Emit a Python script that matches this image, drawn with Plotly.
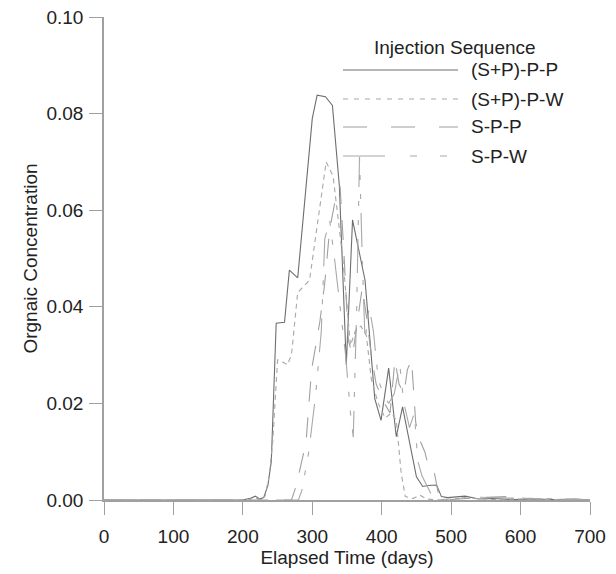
import plotly.graph_objects as go

# ---- data ----
t_sppp = [0, 200, 212, 218, 224, 230, 236, 241, 248, 260, 267, 279, 300, 307, 319, 329, 339, 344, 349, 358,
          376, 390, 399, 410, 421, 430, 450, 459, 467, 479, 486, 495, 520, 540, 560, 590, 620, 650, 680, 700]
v_sppp = [0, 0, 0.0004, 0.0008, 0.0002, 0.0005, 0.003, 0.008, 0.0366, 0.0368, 0.0476, 0.046, 0.079, 0.0838,
          0.0835, 0.0817, 0.065, 0.045, 0.028, 0.058, 0.0455, 0.021, 0.0165, 0.0273, 0.0131, 0.0193, 0.0048,
          0.0028, 0.0030, 0.0031, 0.0007, 0.0005, 0.0008, 0.0002, 0.0003, 0.0001, 0.0002, 0.0001, 0.0002, 0]

t_sppw = [0, 210, 216, 222, 226, 232, 238, 243, 250, 258, 264, 270, 279, 286, 296, 320, 330, 344, 350, 355,
          362, 370, 378, 385, 395, 405, 414, 421, 428, 434, 445, 455, 465, 480, 520, 560, 600, 700]
v_sppw = [0, 0, 0.0006, 0.0002, 0, 0.0008, 0.005, 0.012, 0.029, 0.0285, 0.028, 0.030, 0.043, 0.044, 0.0455,
          0.070, 0.067, 0.050, 0.040, 0.032, 0.035, 0.036, 0.034, 0.025, 0.020, 0.017, 0.018, 0.0165, 0.0056,
          0.0007, 0.0003, 0.001, 0.0002, 0, 0.0004, 0.0001, 0.0002, 0]

t_spp = [0, 270, 277, 291, 299, 311, 318, 325, 333, 340, 346, 352, 358, 364, 372, 378, 385, 392, 398, 404,
         412, 419, 425, 432, 437, 443, 449, 456, 462, 469, 476, 482, 490, 540, 580, 620, 700]
v_spp = [0, 0, 0.003, 0.012, 0.027, 0.037, 0.045, 0.056, 0.062, 0.065, 0.050, 0.033, 0.030, 0.036, 0.044,
         0.038, 0.030, 0.024, 0.022, 0.020, 0.018, 0.029, 0.024, 0.022, 0.027, 0.029, 0.016, 0.012, 0.010,
         0.006, 0.0055, 0.001, 0, 0.0005, 0.0007, 0.0002, 0]

t_spw = [0, 280, 285, 295, 305, 313, 318, 325, 332, 340, 348, 355, 359, 364, 368, 372, 376, 382, 388, 395,
         402, 410, 418, 426, 432, 440, 447, 452, 458, 465, 472, 480, 530, 580, 640, 700]
v_spw = [0, 0, 0.002, 0.010, 0.022, 0.035, 0.054, 0.058, 0.050, 0.040, 0.030, 0.018, 0.013, 0.040, 0.071,
         0.050, 0.033, 0.040, 0.035, 0.025, 0.022, 0.020, 0.022, 0.028, 0.020, 0.015, 0.018, 0.008, 0.005,
         0.003, 0.001, 0, 0.0006, 0.0004, 0.0003, 0]

names = ["(S+P)-P-P", "(S+P)-P-W", "S-P-P", "S-P-W"]
x_ticks = [0, 100, 200, 300, 400, 500, 600, 700]
y_ticks = [0.00, 0.02, 0.04, 0.06, 0.08, 0.10]

# ---- styles ----
colors = ["#6e6e6e", "#a8a8a8", "#a0a0a0", "#a8a8a8"]
dashes = ["solid", "5px,4px", "20px,16px", "34px,14px,5px,14px,5px,14px"]
legend_dashes = ["solid", "5px,6px", "24px,24px", "42px,25px,7px,23px,7px,23px"]

series = [(t_sppp, v_sppp), (t_sppw, v_sppw), (t_spp, v_spp), (t_spw, v_spw)]

fig = go.Figure()
for (tx, vy), nm, c, d in zip(series, names, colors, dashes):
    fig.add_trace(go.Scatter(x=tx, y=vy, mode="lines", name=nm,
                             line=dict(color=c, width=1.1, dash=d), showlegend=False))

FONT = "Liberation Sans, Arial, sans-serif"
FS = 19
L, R, T, B = 104, 26, 17, 74
W, H = 616, 574
pw, ph = W - L - R, H - T - B

def px_x(p):
    return (p - L) / pw

def px_y(p):
    return (H - B - p) / ph

# manual legend
fig.add_annotation(x=px_x(455), y=px_y(47), xref="paper", yref="paper", text="Injection Sequence",
                   showarrow=False, xanchor="center", yanchor="middle",
                   font=dict(family=FONT, size=FS, color="#222"))
leg_y = [70, 99, 127, 156]
for nm, c, d, yy in zip(names, colors, legend_dashes, leg_y):
    fig.add_shape(type="line", xref="paper", yref="paper", x0=px_x(343), x1=px_x(458),
                  y0=px_y(yy), y1=px_y(yy), line=dict(color=c, width=1.1, dash=d))
    fig.add_annotation(x=px_x(469), y=px_y(yy), xref="paper", yref="paper", text=nm,
                       showarrow=False, xanchor="left", yanchor="middle",
                       font=dict(family=FONT, size=FS, color="#222"))

axis_common = dict(showline=True, linecolor="#a0a0a0", linewidth=1.5, ticks="outside", ticklen=13,
                   tickcolor="#a0a0a0", tickwidth=1, showgrid=False, zeroline=False,
                   tickfont=dict(family=FONT, size=FS, color="#222"))

fig.update_layout(
    width=W, height=H, margin=dict(l=L, r=R, t=T, b=B, autoexpand=False),
    paper_bgcolor="white", plot_bgcolor="white",
    xaxis=dict(range=[0, 700], tickvals=x_ticks, ticktext=[str(v) for v in x_ticks],
               title=dict(text="Elapsed Time (days)", font=dict(family=FONT, size=FS, color="#222"), standoff=0),
               ticklabelstandoff=5, **axis_common),
    yaxis=dict(range=[0, 0.1], tickvals=y_ticks, ticktext=[f"{v:.2f}" for v in y_ticks],
               title=dict(text="Orgnaic Concentration", font=dict(family=FONT, size=FS, color="#222"), standoff=4),
               ticklabelstandoff=2, **axis_common),
)

fig.write_html("out.html")
